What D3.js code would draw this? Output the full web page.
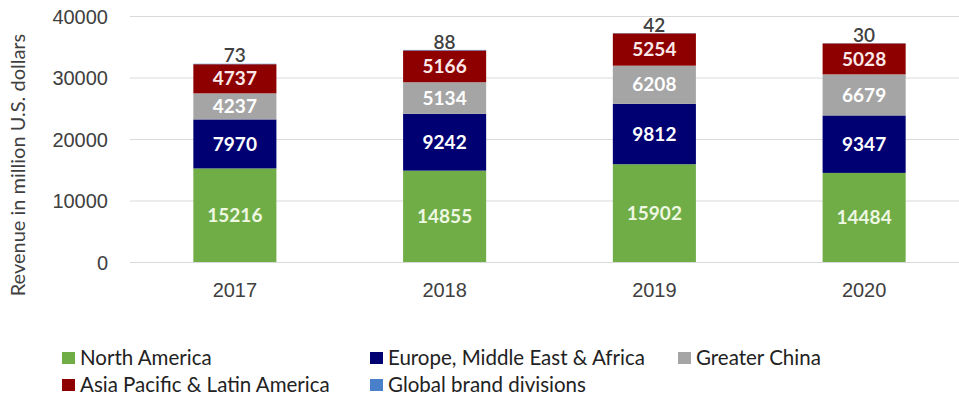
<!DOCTYPE html>
<html>
<head>
<meta charset="utf-8">
<script src="https://cdn.jsdelivr.net/npm/d3@7/dist/d3.min.js"></script>
<style>
  html, body { margin: 0; padding: 0; background: #ffffff; }
  svg { display: block; font-family: Lato, "Open Sans", sans-serif; }
</style>
</head>
<body>
<svg id="chart" width="959" height="397"></svg>
<script>
// Revenue by region, million U.S. dollars
const years = ["2017", "2018", "2019", "2020"];
const regions = [
  "North America",
  "Europe, Middle East & Africa",
  "Greater China",
  "Asia Pacific & Latin America",
  "Global brand divisions"
];
const northAmerica = [15216, 14855, 15902, 14484];
const emea = [7970, 9242, 9812, 9347];
const greaterChina = [4237, 5134, 6208, 6679];
const apla = [4737, 5166, 5254, 5028];
const globalBrand = [73, 88, 42, 30];
const yTicks = [0, 10000, 20000, 30000, 40000];

const series = [northAmerica, emea, greaterChina, apla, globalBrand];
const colors = ["#70ad47", "#000073", "#a5a5a5", "#8e0000", "#4a7fc9"];
const labelColors = ["#eef7e2", "#ffffff", "#ffffff", "#fbe9e9", "#404040"];

const rows = years.map((y, i) => {
  const r = { year: y };
  regions.forEach((k, j) => { r[k] = series[j][i]; });
  return r;
});
const stacked = d3.stack().keys(regions)(rows);

const svg = d3.select("#chart");

const x = d3.scaleBand()
  .domain(years)
  .range([130, 969])
  .paddingInner(0.604)
  .paddingOuter(0.302);

const y = d3.scaleLinear()
  .domain([0, 40000])
  .range([262, 16]);

// Horizontal gridlines with value labels on the left
const yAxis = d3.axisLeft(y)
  .tickValues(yTicks)
  .tickSize(-(969 - 130))
  .tickPadding(22)
  .tickFormat(d3.format("d"));

const gy = svg.append("g")
  .attr("transform", "translate(130,0)")
  .call(yAxis);
gy.select(".domain").remove();
gy.selectAll(".tick line").attr("stroke", "#d9d9d9").attr("stroke-width", 1);
gy.selectAll(".tick text")
  .attr("fill", "#404040")
  .style("font-size", "20px")
  .attr("dy", "0.35em");

// Category labels along the bottom
const xAxis = d3.axisBottom(x).tickSize(0).tickPadding(21);
const gx = svg.append("g")
  .attr("transform", "translate(0,262)")
  .call(xAxis);
gx.select(".domain").remove();
gx.selectAll(".tick text")
  .attr("fill", "#404040")
  .style("font-size", "20px");

// Stacked bars
const layers = svg.append("g").selectAll("g")
  .data(stacked)
  .join("g")
  .attr("fill", (d, i) => colors[i]);

layers.selectAll("rect")
  .data(d => d)
  .join("rect")
  .attr("x", d => x(d.data.year))
  .attr("width", x.bandwidth())
  .attr("y", d => y(d[1]))
  .attr("height", d => y(d[0]) - y(d[1]));

// Value labels: centred in each segment, above the stack for the small top series
const labels = svg.append("g");
stacked.forEach((layer, i) => {
  const isTop = i === stacked.length - 1;
  labels.selectAll(null)
    .data(layer)
    .join("text")
    .attr("x", d => x(d.data.year) + x.bandwidth() / 2)
    .attr("y", d => isTop ? y(d[1]) - 8 : (y(d[0]) + y(d[1])) / 2)
    .attr("dy", "0.35em")
    .attr("text-anchor", "middle")
    .attr("fill", labelColors[i])
    .style("font-size", "19px")
    .style("font-weight", isTop ? "600" : "bold")
    .text(d => d.data[layer.key]);
});

// Axis title
svg.append("text")
  .attr("transform", "translate(25,165) rotate(-90)")
  .attr("text-anchor", "middle")
  .attr("fill", "#404040")
  .style("font-size", "20px")
  .text("Revenue in million U.S. dollars");

// Legend in a three-column grid
const legend = svg.append("g");
const item = legend.selectAll("g")
  .data(regions)
  .join("g")
  .attr("transform", (d, i) => `translate(${62 + (i % 3) * 308},${358 + Math.floor(i / 3) * 27})`);
item.append("rect")
  .attr("x", 0).attr("y", -6)
  .attr("width", 13).attr("height", 12)
  .attr("fill", (d, i) => colors[i]);
item.append("text")
  .attr("x", 18)
  .attr("dy", "0.36em")
  .attr("fill", "#222222")
  .style("font-size", "20.5px")
  .text(d => d);
</script>
</body>
</html>
